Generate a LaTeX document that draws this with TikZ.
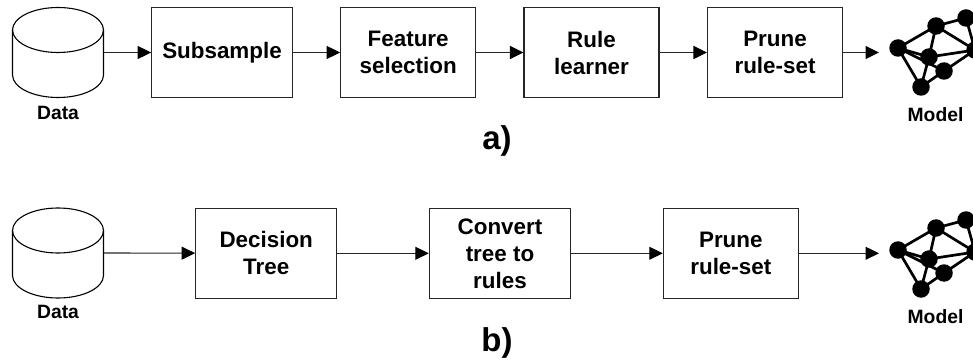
\documentclass[tikz,border=0pt]{standalone}
\usepackage{fontspec}
\setmainfont{Liberation Sans}
\usetikzlibrary{arrows.meta}
\tikzset{
  x=1pt,y=-1pt,
  procbox/.style={draw=black!85,line width=1.1pt,minimum height=90pt,align=center,inner sep=0pt,
    font=\fontsize{22.4}{27}\selectfont\bfseries},
  flow/.style={draw=black!85,line width=1.1pt,-{Triangle[length=13.5pt,width=13pt,color=black]}},
  cyl/.style={draw=black,line width=1.1pt},
  small/.style={font=\fontsize{19.3}{22}\selectfont\bfseries,inner sep=0pt},
  big/.style={font=\fontsize{33}{36}\selectfont\bfseries,inner sep=0pt},
  netdot/.style={circle,fill=black,minimum size=17.5pt,inner sep=0pt},
  netedge/.style={draw=black,line width=2.7pt},
}
\newcommand{\drumshape}[2]{% #1 top-ellipse centre y, #2 name of right-hand connector coordinate
  \draw[cyl] (58,#1) ellipse [x radius=45.5pt,y radius=22.5pt];
  \draw[cyl] (12.5,#1) -- (12.5,#1+45) arc [start angle=180,end angle=360,x radius=45.5pt,y radius=22.5pt] -- (103.5,#1);
  \coordinate (#2) at (103.5,#1+22.5);
}
\newcommand{\netshape}[2]{% #1 vertical offset, #2 name prefix
  \begin{scope}[yshift=-#1pt]
    \node[netdot] (#2a) at (898,48) {};
    \node[netdot] (#2b) at (936,26) {};
    \node[netdot] (#2c) at (966,18) {};
    \node[netdot] (#2d) at (975,50) {};
    \node[netdot] (#2e) at (929,57) {};
    \node[netdot] (#2f) at (944,71) {};
    \node[netdot] (#2g) at (921,87) {};
    \path[netedge] (#2a.center) -- (#2b.center) -- (#2c.center) -- (#2d.center) -- (#2b.center) -- (#2e.center) -- (#2d.center) -- (#2f.center) -- (#2g.center) -- (#2a.center) -- (#2e.center) -- (#2g.center);
    \path[netedge] (#2a.center) -- (#2f.center);
  \end{scope}
}
\begin{document}
\begin{tikzpicture}
\useasboundingbox (0,0) rectangle (973,363);
% row a
\drumshape{30}{d1}
\node[small] (data1) at (58,112.5) {Data};
\node[procbox,minimum width=140.6pt] (a1) at (222,52.5) {Subsample};
\node[procbox,minimum width=135pt] (a2) at (408.2,52.5) {Feature\\selection};
\node[procbox,minimum width=135pt] (a3) at (591.5,52.5) {Rule\\learner};
\node[procbox,minimum width=135pt] (a4) at (775,52.5) {Prune\\rule-set};
\netshape{0}{p}
\coordinate (m1) at (879,52.5);
\node[small] (model1) at (935.5,115) {Model};
\draw[flow] (d1) -- (a1);
\draw[flow] (a1) -- (a2);
\draw[flow] (a2) -- (a3);
\draw[flow] (a3) -- (a4);
\draw[flow] (a4) -- (m1);
\node[big] (capa) at (497,141) {a)};
% row b
\drumshape{230.5}{d2}
\node[small] (data2) at (58,312) {Data};
\node[procbox,minimum width=141pt] (b1) at (266.2,253.3) {Decision\\Tree};
\node[procbox,minimum width=141.4pt] (b2) at (500,253.3) {Convert\\tree to\\rules};
\node[procbox,minimum width=135pt] (b3) at (730.8,253.3) {Prune\\rule-set};
\netshape{202}{q}
\coordinate (m2) at (879,253.3);
\node[small] (model2) at (935.5,317) {Model};
\draw[flow] (d2) -- (b1);
\draw[flow] (b1) -- (b2);
\draw[flow] (b2) -- (b3);
\draw[flow] (b3) -- (m2);
\node[big] (capb) at (497,343) {b)};
\end{tikzpicture}
\end{document}
